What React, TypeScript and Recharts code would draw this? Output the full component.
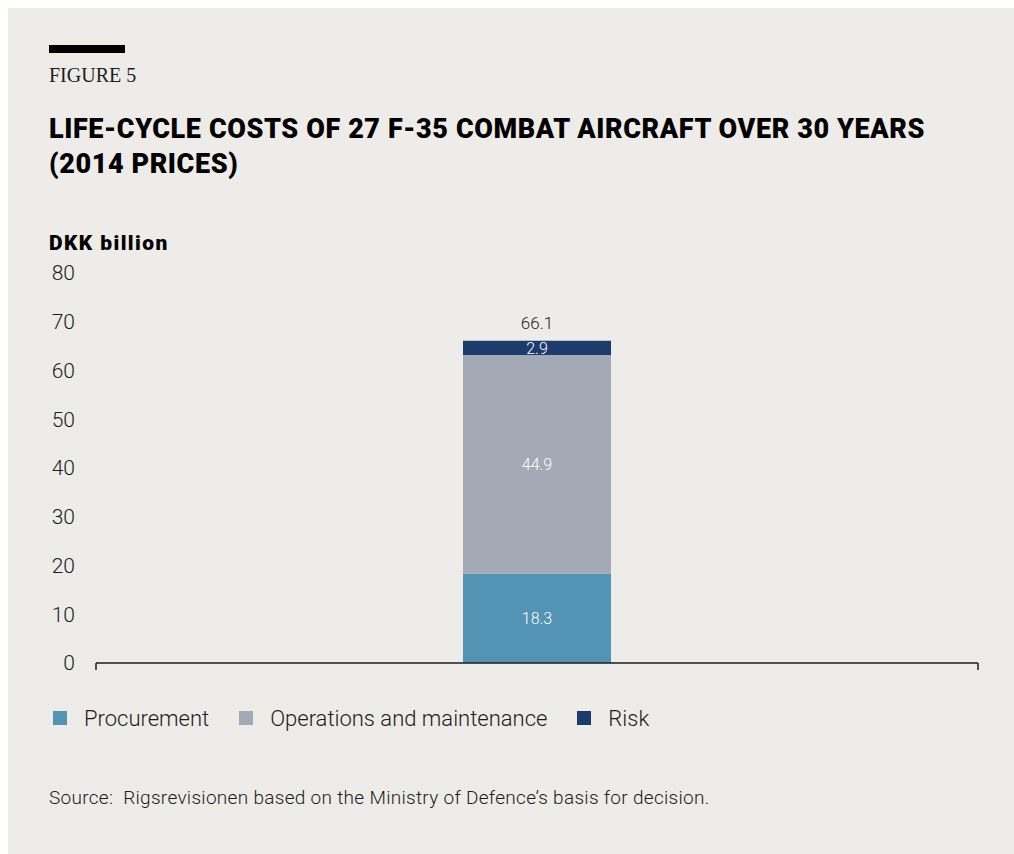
import { BarChart, Bar, XAxis, YAxis, Legend, LabelList } from "recharts";

const categories = ["F-35"];
const procurement = [18.3];
const operations = [44.9];
const risk = [2.9];
const totals = [66.1];
const yTicks = [0, 10, 20, 30, 40, 50, 60, 70, 80];
const frameTicks = [0, 1];
const seriesOrder = ["Procurement", "Operations and maintenance", "Risk"];

const data = categories.map((category, i) => ({
  category,
  procurement: procurement[i],
  operations: operations[i],
  risk: risk[i],
  total: totals[i],
  frame: 0.5,
}));

const FONT = "Roboto, 'Noto Sans', sans-serif";
const INK = "#1d1d1b";

const LegendContent = ({ payload }: any) => (
  <div style={{ display: "flex", alignItems: "center", height: 24, fontFamily: FONT, fontWeight: 300, fontSize: 22, color: INK }}>
    {(payload || []).map((item: any) => (
      <div key={item.value} style={{ display: "flex", alignItems: "center", marginRight: 30 }}>
        <span style={{ display: "inline-block", width: 14, height: 14, background: item.color, marginRight: 17 }} />
        <span>{item.value}</span>
      </div>
    ))}
  </div>
);

export default function App() {
  return (
    <div style={{ position: "fixed", left: 8, top: 8, right: 0, bottom: 0, background: "#EDECE8", overflow: "hidden" }}>
      <div style={{ position: "absolute", left: 41, top: 37, width: 76, height: 8, background: "#000" }} />
      <div style={{ position: "absolute", left: 41, top: 55, lineHeight: "24px", fontFamily: "'Liberation Serif', serif", fontSize: 20, color: INK }}>
        FIGURE 5
      </div>
      <div style={{ position: "absolute", left: 41, top: 104, lineHeight: "35px", fontFamily: FONT, fontWeight: 900, fontSize: 27, letterSpacing: 0.6, color: "#000", whiteSpace: "nowrap" }}>
        LIFE-CYCLE COSTS OF 27 F-35 COMBAT AIRCRAFT OVER 30 YEARS
        <br />
        (2014 PRICES)
      </div>
      <div style={{ position: "absolute", left: 41, top: 222, lineHeight: "26px", fontFamily: FONT, fontWeight: 900, fontSize: 21, letterSpacing: 1.4, color: "#000" }}>
        DKK billion
      </div>

      <div style={{ position: "absolute", left: 0, top: 0 }}>
        <BarChart width={1006} height={800} data={data} margin={{ top: 265, right: 36, left: 48, bottom: 78 }}>
          <XAxis
            xAxisId="frame"
            dataKey="frame"
            type="number"
            scale="linear"
            domain={[0, 1]}
            allowDataOverflow
            ticks={frameTicks}
            interval={0}
            height={43}
            tickFormatter={() => ""}
            tickSize={7}
            axisLine={{ stroke: INK, strokeWidth: 1.5 }}
            tickLine={{ stroke: INK, strokeWidth: 1.5 }}
          />
          <XAxis dataKey="category" hide height={0} />
          <YAxis
            domain={[0, 80]}
            ticks={yTicks}
            width={40}
            axisLine={false}
            tickLine={false}
            tickSize={0}
            tickMargin={21}
            tick={{ fill: INK, fontSize: 21, fontFamily: FONT, fontWeight: 300 }}
          />
          <Legend
            verticalAlign="bottom"
            align="left"
            wrapperStyle={{ left: 45 }}
            itemSorter={(item: any) => seriesOrder.indexOf(item.value)}
            content={<LegendContent />}
          />
          <Bar dataKey="procurement" name="Procurement" stackId="a" fill="#5393B4" barSize={148} isAnimationActive={false}>
            <LabelList dataKey="procurement" position="center" fill="#fff" fontSize={16} fontWeight={300} fontFamily={FONT} />
          </Bar>
          <Bar dataKey="operations" name="Operations and maintenance" stackId="a" fill="#A3AAB5" barSize={148} isAnimationActive={false}>
            <LabelList dataKey="operations" position="center" fill="#fff" fontSize={16} fontWeight={300} fontFamily={FONT} />
          </Bar>
          <Bar dataKey="risk" name="Risk" stackId="a" fill="#1D3C6E" barSize={148} isAnimationActive={false}>
            <LabelList dataKey="risk" position="center" fill="#fff" fontSize={16} fontWeight={300} fontFamily={FONT} />
            <LabelList dataKey="total" position="top" offset={12} fill={INK} fontSize={17} fontWeight={300} fontFamily={FONT} />
          </Bar>
        </BarChart>
      </div>

      <div style={{ position: "absolute", left: 41, top: 778, lineHeight: "24px", fontFamily: FONT, fontWeight: 300, fontSize: 19, letterSpacing: 0.3, color: INK, whiteSpace: "pre" }}>
        {"Source:  Rigsrevisionen based on the Ministry of Defence\u2019s basis for decision."}
      </div>
    </div>
  );
}
